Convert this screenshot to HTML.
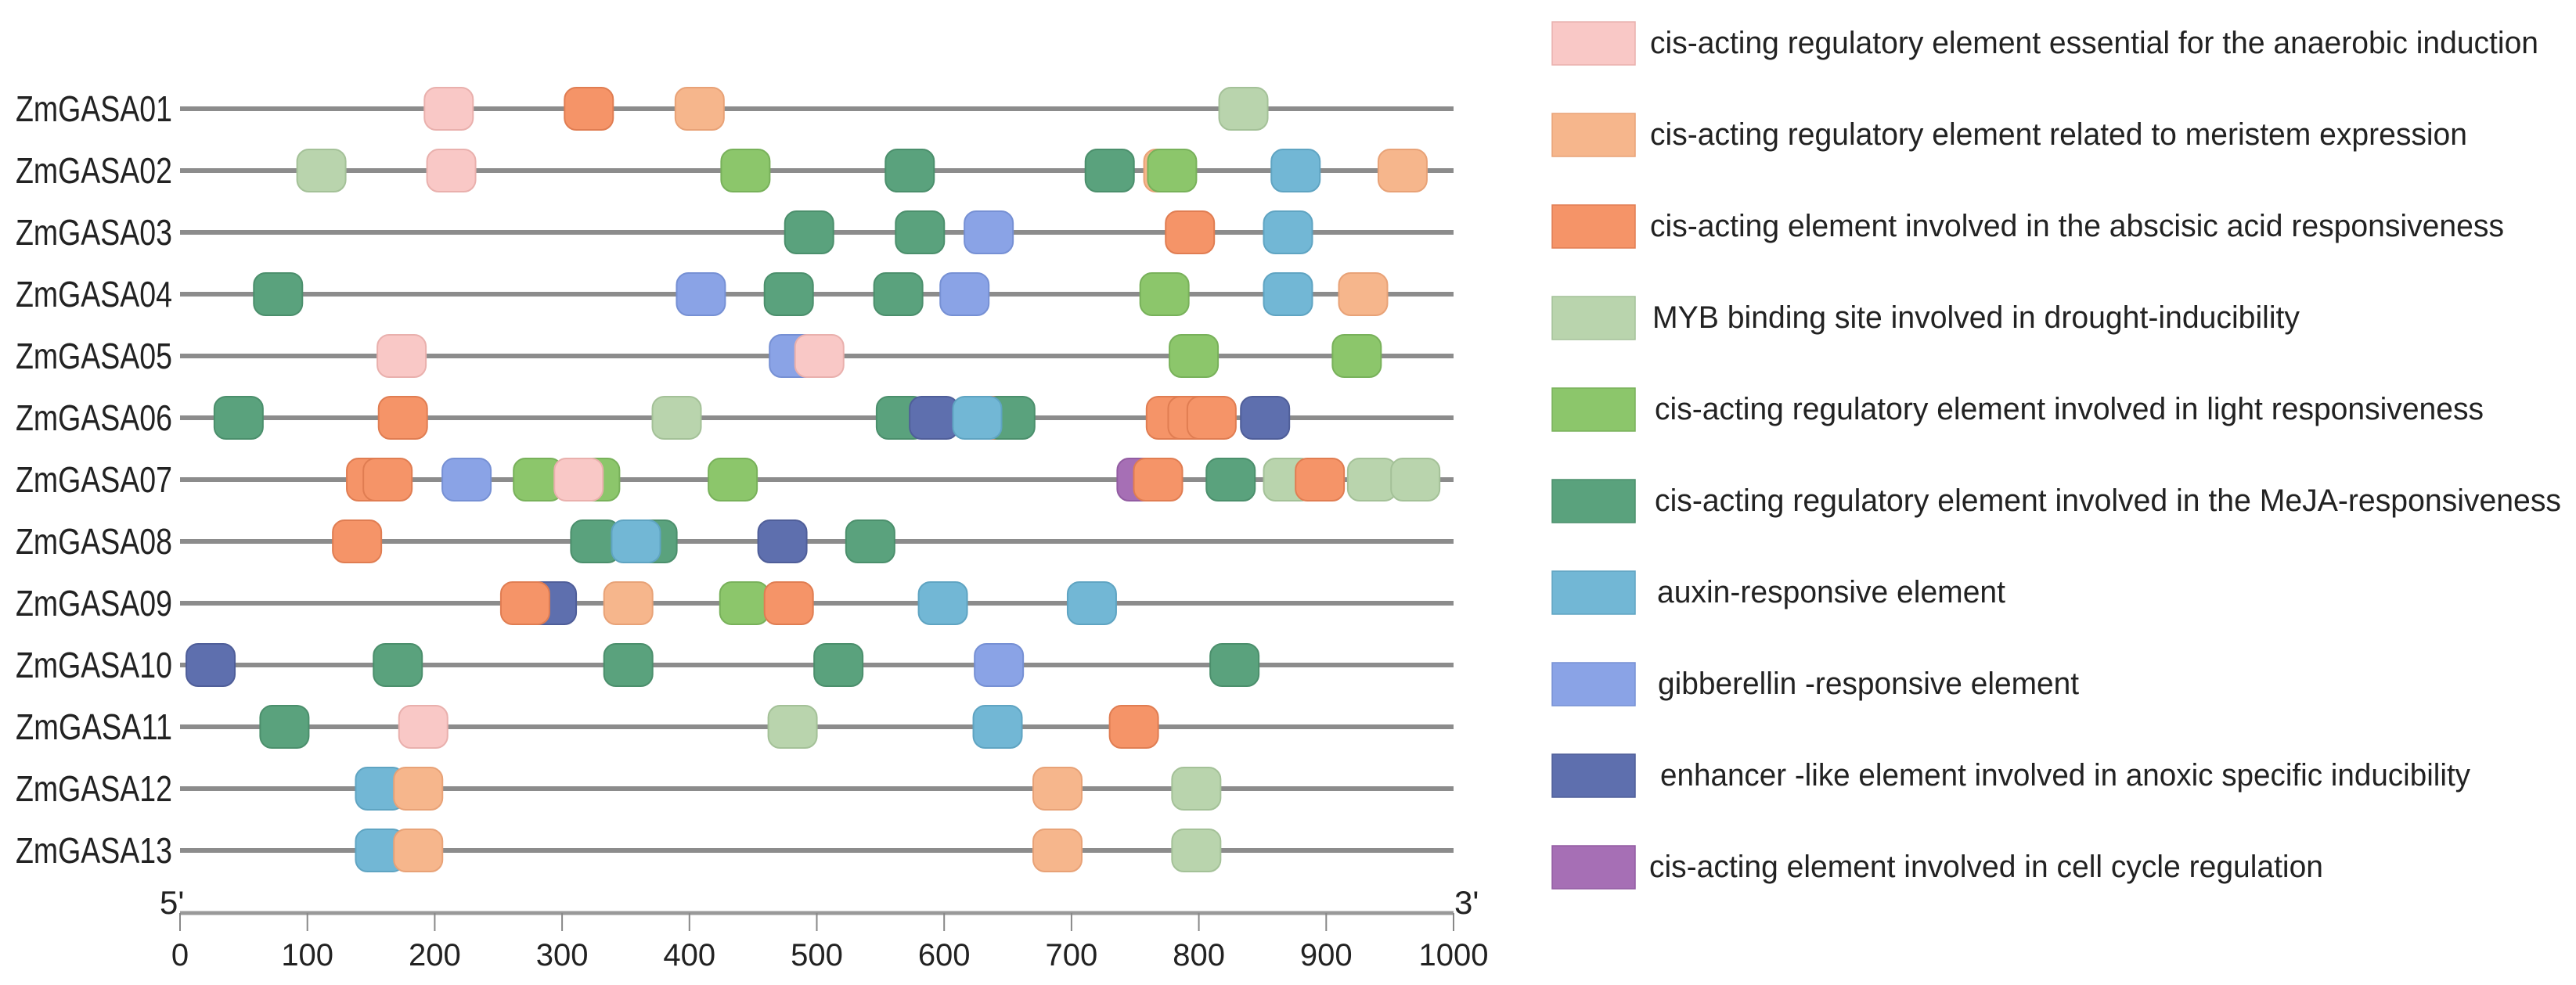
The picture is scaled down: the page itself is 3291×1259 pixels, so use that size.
<!DOCTYPE html>
<html><head><meta charset="utf-8"><style>
html,body{margin:0;padding:0;background:#fff;}
svg{display:block;}
text{font-family:"Liberation Sans",Arial,sans-serif;fill:#222;}
</style></head><body>
<svg id="chart" width="3291" height="1259" viewBox="0 0 3291 1259" xmlns="http://www.w3.org/2000/svg"></svg>
<script>
const genes = ["ZmGASA01","ZmGASA02","ZmGASA03","ZmGASA04","ZmGASA05","ZmGASA06","ZmGASA07","ZmGASA08","ZmGASA09","ZmGASA10","ZmGASA11","ZmGASA12","ZmGASA13"];
const elementTypes = ["A","B","C","D","E","F","G","H","I","J"];
const legendLabels = [
 "cis-acting regulatory element essential for the anaerobic induction",
 "cis-acting regulatory element related to meristem expression",
 "cis-acting element involved in the abscisic acid responsiveness",
 "MYB binding site involved in drought-inducibility",
 "cis-acting regulatory element involved in light responsiveness",
 "cis-acting regulatory element involved in the MeJA-responsiveness",
 "auxin-responsive element",
 "gibberellin -responsive element",
 "enhancer -like element involved in anoxic specific inducibility",
 "cis-acting element involved in cell cycle regulation"];
const xTicks = [0,100,200,300,400,500,600,700,800,900,1000];
// element positions per gene (site, type)
const sites01 = [[211,"A"],[321,"C"],[408,"B"],[835,"D"]];
const sites02 = [[111,"D"],[213,"A"],[444,"E"],[573,"F"],[730,"F"],[776,"B"],[779,"E"],[876,"G"],[960,"B"]];
const sites03 = [[494,"F"],[581,"F"],[635,"H"],[793,"C"],[870,"G"]];
const sites04 = [[77,"F"],[409,"H"],[478,"F"],[564,"F"],[616,"H"],[773,"E"],[870,"G"],[929,"B"]];
const sites05 = [[174,"A"],[482,"H"],[502,"A"],[796,"E"],[924,"E"]];
const sites06 = [[46,"F"],[175,"C"],[390,"D"],[566,"F"],[592,"I"],[647,"C"],[652,"F"],[626,"G"],[778,"C"],[795,"C"],[810,"C"],[852,"I"]];
const sites07 = [[150,"C"],[163,"C"],[225,"H"],[281,"E"],[326,"E"],[313,"A"],[434,"E"],[755,"J"],[768,"C"],[825,"F"],[870,"D"],[895,"C"],[936,"D"],[970,"D"]];
const sites08 = [[139,"C"],[326,"F"],[371,"F"],[358,"G"],[473,"I"],[542,"F"]];
const sites09 = [[292,"I"],[271,"C"],[352,"B"],[443,"E"],[478,"C"],[599,"G"],[716,"G"]];
const sites10 = [[24,"I"],[171,"F"],[352,"F"],[517,"F"],[643,"H"],[828,"F"]];
const sites11 = [[82,"F"],[191,"A"],[481,"D"],[642,"G"],[749,"C"]];
const sites12 = [[157,"G"],[187,"B"],[689,"B"],[798,"D"]];
const sites13 = [[157,"G"],[187,"B"],[689,"B"],[798,"D"]];
const allSites = [sites01,sites02,sites03,sites04,sites05,sites06,sites07,sites08,sites09,sites10,sites11,sites12,sites13];

const colors = {A:"#f9c8c6",B:"#f6b68c",C:"#f59468",D:"#b9d4ad",E:"#8cc66b",F:"#5aa27d",G:"#72b7d5",H:"#8aa3e6",I:"#5e6fae",J:"#a66fb5"};
const strokes = {A:"#e9b0ad",B:"#e8a277",C:"#e07d52",D:"#a4c198",E:"#78b15a",F:"#4b8f6c",G:"#5fa4c2",H:"#7690d4",I:"#4f5e99",J:"#925ca2"};

const NS="http://www.w3.org/2000/svg";
const svg=document.getElementById("chart");
const X0=230, X1=1857;
const xs=v=>X0+(v/1000)*(X1-X0);
const ys=i=>139+i*79;
function mk(tag,attrs,parent){const e=document.createElementNS(NS,tag);for(const k in attrs)e.setAttribute(k,attrs[k]);(parent||svg).appendChild(e);return e;}

genes.forEach((g,i)=>{
  const grp=mk("g",{});
  
  
  const t=mk("text",{x:220,y:ys(i)+16,"text-anchor":"end","font-size":46,textLength:200,lengthAdjust:"spacingAndGlyphs"},grp);
  t.textContent=g;
  
  
  const l=mk("line",{x1:X0,x2:X1,y1:ys(i),y2:ys(i),stroke:"#8c8c8c","stroke-width":6},grp);
  
  
  allSites[i].forEach(s=>{
    const r=mk("rect",{x:xs(s[0])-31,y:ys(i)-27,width:62,height:54,rx:15,ry:15,fill:colors[s[1]],stroke:strokes[s[1]],"stroke-width":2},grp);
    
    
  });
});

// axis
const ax=mk("g",{});


mk("line",{x1:X0,x2:X1,y1:1167,y2:1167,stroke:"#999","stroke-width":5},ax);
xTicks.forEach(v=>{
  const tk=mk("line",{x1:xs(v),x2:xs(v),y1:1167,y2:1190,stroke:"#888","stroke-width":2},ax);
  
  
  const tl=mk("text",{x:xs(v),y:1234,"text-anchor":"middle","font-size":40},ax);
  tl.textContent=v;
  
  
});
const p5=mk("text",{x:204,y:1168,"font-size":42},ax);p5.textContent="5'";


const p3=mk("text",{x:1858,y:1168,"font-size":42},ax);p3.textContent="3'";



// legend
const legendEnds=[3243,3152,3199,2938,3173,3272,2562,2656,3156,2968];
const legendStarts=[2108,2108,2108,2111,2114,2114,2117,2118,2121,2107];
const lg=mk("g",{});


elementTypes.forEach((t,i)=>{
  const cy=55+i*117;
  const e=mk("g",{},lg);
  
  
  mk("rect",{x:1983,y:cy-27,width:106,height:55,fill:colors[t],stroke:strokes[t],"stroke-width":1.5},e);
  const tx=mk("text",{x:legendStarts[i],y:cy+13,"font-size":40,textLength:legendEnds[i]-legendStarts[i],lengthAdjust:"spacingAndGlyphs"},e);
  tx.textContent=legendLabels[i];
});
</script>
</body></html>
